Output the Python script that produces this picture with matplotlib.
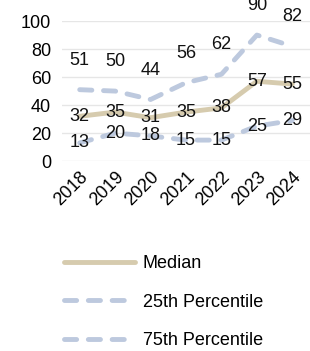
import matplotlib.pyplot as plt

plt.rcParams['font.family'] = ['Liberation Sans', 'DejaVu Sans']

years = ["2018", "2019", "2020", "2021", "2022", "2023", "2024"]
median = [32, 35, 31, 35, 38, 57, 55]
p25 = [13, 20, 18, 15, 15, 25, 29]
p75 = [51, 50, 44, 56, 62, 90, 82]

c_med = "#D6CBAE"
c_pct = "#BDC9DE"
fs = 13

fig = plt.figure(figsize=(3.10, 3.51), dpi=100)
ax = fig.add_axes([0.20, 0.541, 0.80, 0.399])

x = list(range(len(years)))
ax.plot(x, median, color=c_med, lw=3.5, solid_capstyle="round", label="Median")
ax.plot(x, p25, color=c_pct, lw=3.5, dashes=(2.5, 2.4), dash_capstyle="round", label="25th Percentile")
ax.plot(x, p75, color=c_pct, lw=3.5, dashes=(2.5, 2.4), dash_capstyle="round", label="75th Percentile")

for i in x:
    ax.text(i, median[i], str(median[i]), ha="center", va="center", fontsize=fs, color="#111111")
    ax.text(i, p25[i], str(p25[i]), ha="center", va="center", fontsize=fs, color="#111111")
    ax.text(i, p75[i] + 21, str(p75[i]), ha="center", va="center", fontsize=fs, color="#111111")

ax.set_xlim(-0.5, len(years) - 0.5)
ax.set_ylim(0, 100)
ax.set_yticks(range(0, 101, 20))
ax.set_xticks(x)
ax.set_xticklabels(years, rotation=45, ha="right", rotation_mode="anchor", fontsize=fs)
ax.tick_params(axis="y", labelsize=fs, length=0, pad=8)
ax.tick_params(axis="x", length=0, pad=5)
ax.grid(axis="y", color="#E6E6E6", lw=1)
ax.set_axisbelow(True)
for s in ax.spines.values():
    s.set_visible(False)

fig.legend(loc="upper left", bbox_to_anchor=(0.155, 0.32), frameon=False,
           fontsize=fs, handlelength=3.9, labelspacing=1.2, handletextpad=0.45)

fig.savefig("out.png", dpi=100)
